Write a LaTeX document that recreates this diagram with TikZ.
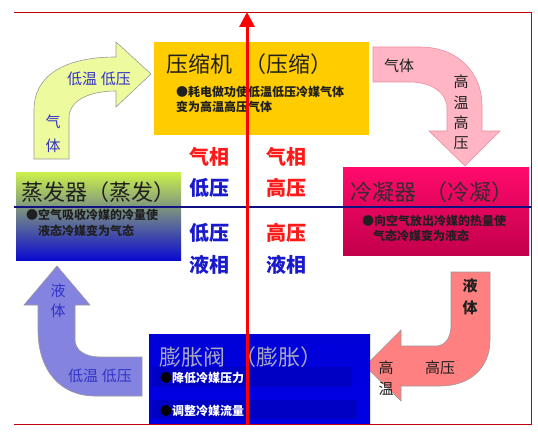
\documentclass[tikz,border=0pt]{standalone}
\usepackage{fontspec}
\setmainfont{Noto Sans CJK SC}
\usetikzlibrary{arrows.meta}
\definecolor{garrow}{HTML}{EEFA9E}
\definecolor{parrow}{HTML}{FFB5C4}
\definecolor{pline}{HTML}{E890A0}
\definecolor{sarrow}{HTML}{FF8080}
\definecolor{larrow}{HTML}{8484E0}
\definecolor{comp}{HTML}{FFCC00}
\definecolor{evtop}{HTML}{CCF24A}
\definecolor{evmid}{HTML}{7E9E92}
\definecolor{evbot}{HTML}{0A0ACF}
\definecolor{condtop}{HTML}{FF0A6C}
\definecolor{condbot}{HTML}{C2004A}
\definecolor{valtop}{HTML}{0000D8}
\definecolor{valbot}{HTML}{0000E6}
\definecolor{valstrip}{HTML}{0000C4}
\definecolor{lblue}{HTML}{3333C8}
\definecolor{mred}{HTML}{FF1A1A}
\definecolor{mblue}{HTML}{1A1ACC}
\definecolor{navyline}{HTML}{101080}
\definecolor{framered}{HTML}{C00010}
\definecolor{darktxt}{HTML}{202020}
\definecolor{condtxt}{HTML}{3A2A30}
\definecolor{valtxt}{HTML}{A8A8BC}
\begin{document}
\begin{tikzpicture}[x=1pt,y=-1pt,
  txt/.style={inner sep=0pt, anchor=west},
  boxtitle/.style={txt, font=\fontsize{22}{26}\selectfont},
  bul/.style={txt, font=\fontsize{12}{14}\selectfont\bfseries},
  midlab/.style={inner sep=0pt, font=\fontsize{20}{24}\selectfont\bfseries},
  alab/.style={inner sep=0pt, font=\fontsize{15}{18}\selectfont},
  shapearrow/.style={draw=black!40, line width=0.6pt}]
\useasboundingbox (0,0) rectangle (538,433);
% frame
\draw[framered, line width=0.9pt] (14,12) -- (531,12) -- (531,424) -- (14,424);
% bent arrows
\draw[shapearrow, fill=garrow] (34,159) -- (34,110) .. controls (34,75) and (65,57) .. (116,57) -- (116,42) -- (151,74) -- (116,107) -- (116,91) .. controls (90,91) and (69,100) .. (69,118) -- (69,159) -- cycle;
\draw[draw=pline, line width=0.6pt, fill=parrow] (373,47) -- (420,47) .. controls (460,47) and (482,75) .. (482,105) -- (482,131) -- (500,131) -- (465,166) -- (429,131) -- (447,131) -- (447,108) .. controls (447,92) and (430,82) .. (410,82) -- (373,82) -- cycle;
\draw[shapearrow, fill=sarrow] (451,272) -- (490,272) -- (490,340) .. controls (490,368) and (470,386) .. (440,386) -- (401,386) -- (401,401) -- (365,366) -- (401,330) -- (401,346) -- (436,346) .. controls (445,346) and (451,338) .. (451,325) -- cycle;
\draw[shapearrow, fill=larrow] (57,266) -- (90,305) -- (75,305) -- (75,340) .. controls (75,350) and (85,357) .. (100,357) -- (142,357) -- (142,396) -- (95,396) .. controls (60,396) and (38,370) .. (38,330) -- (38,305) -- (24,305) -- cycle;
% boxes
\fill[comp] (154,42) rectangle (369,135);
\shade[top color=evtop, middle color=evmid, bottom color=evbot] (16,172) rectangle (181,260);
\shade[top color=condtop, bottom color=condbot] (343,167) rectangle (529,255);
\shade[top color=valtop, bottom color=valbot] (149,334) rectangle (370,423);
\fill[valstrip] (152,367) rectangle (352,387);
\fill[valstrip] (152,400) rectangle (357,419);
% box texts
\node[boxtitle, text=darktxt] (comptitle) at (166,64) {压缩机\hspace{12pt}（压缩）};
\node[bul, text=darktxt] (compb1) at (176,92) {●耗电做功使低温低压冷媒气体};
\node[bul, text=darktxt] (compb2) at (176,107) {变为高温高压气体};
\node[boxtitle, text=darktxt] (evtitle) at (21,192) {蒸发器（蒸发）};
\node[bul, text=darktxt] (evb1) at (26,215) {●空气吸收冷媒的冷量使};
\node[bul, text=darktxt] (evb2) at (38,231) {液态冷媒变为气态};
\node[boxtitle, text=condtxt] (condtitle) at (350,192) {冷凝器\hspace{9pt}（冷凝）};
\node[bul, text=darktxt] (condb1) at (362,221) {●向空气放出冷媒的热量使};
\node[bul, text=darktxt] (condb2) at (373,236) {气态冷媒变为液态};
\node[boxtitle, text=valtxt] (valtitle) at (159,357) {膨胀阀\hspace{9pt}（膨胀）};
\node[bul, text=white] (valb1) at (160,378) {\textcolor{black}{●}降低冷媒压力};
\node[bul, text=white] (valb2) at (160,411) {\textcolor{black}{●}调整冷媒流量};
% middle labels
\node[midlab, text=mred] (m1) at (209,157) {气相};
\node[midlab, text=mblue] (m2) at (209,188) {低压};
\node[midlab, text=mblue] (m3) at (209,233) {低压};
\node[midlab, text=mblue] (m4) at (209,265) {液相};
\node[midlab, text=mred] (m5) at (286,157) {气相};
\node[midlab, text=mred] (m6) at (286,188) {高压};
\node[midlab, text=mred] (m7) at (286,233) {高压};
\node[midlab, text=mblue] (m8) at (286,265) {液相};
% arrow labels
\node[alab, text=lblue] (g1) at (99,79) {低温\hspace{4pt}低压};
\node[alab, text=lblue] (g2) at (53,122) {气};
\node[alab, text=lblue] (g3) at (53,146) {体};
\node[alab, text=darktxt] (p1) at (399,66) {气体};
\node[alab, text=darktxt] (p2) at (461,82) {高};
\node[alab, text=darktxt] (p3) at (461,103) {温};
\node[alab, text=darktxt] (p4) at (461,123) {高};
\node[alab, text=darktxt] (p5) at (461,143) {压};
\node[alab, text=darktxt, font=\fontsize{15}{18}\selectfont\bfseries] (s1) at (470,286) {液};
\node[alab, text=darktxt, font=\fontsize{15}{18}\selectfont\bfseries] (s2) at (470,308) {体};
\node[alab, text=darktxt] (s3) at (440,368) {高压};
\node[alab, text=darktxt] (s4) at (386,368) {高};
\node[alab, text=darktxt] (s5) at (386,389) {温};
\node[alab, text=lblue] (l1) at (58,291) {液};
\node[alab, text=lblue] (l2) at (58,311) {体};
\node[alab, text=lblue] (l3) at (100,376) {低温\hspace{4pt}低压};
% axes
\coordinate (bl) at (14,207);
\coordinate (br) at (531,207);
\draw[navyline, line width=2.5pt] (bl) -- (br);
\coordinate (rb) at (247,425);
\coordinate (rt) at (247,12);
\draw[red, line width=3pt, -{Triangle[width=15pt,length=15pt]}] (rb) -- (rt);
\end{tikzpicture}
\end{document}
